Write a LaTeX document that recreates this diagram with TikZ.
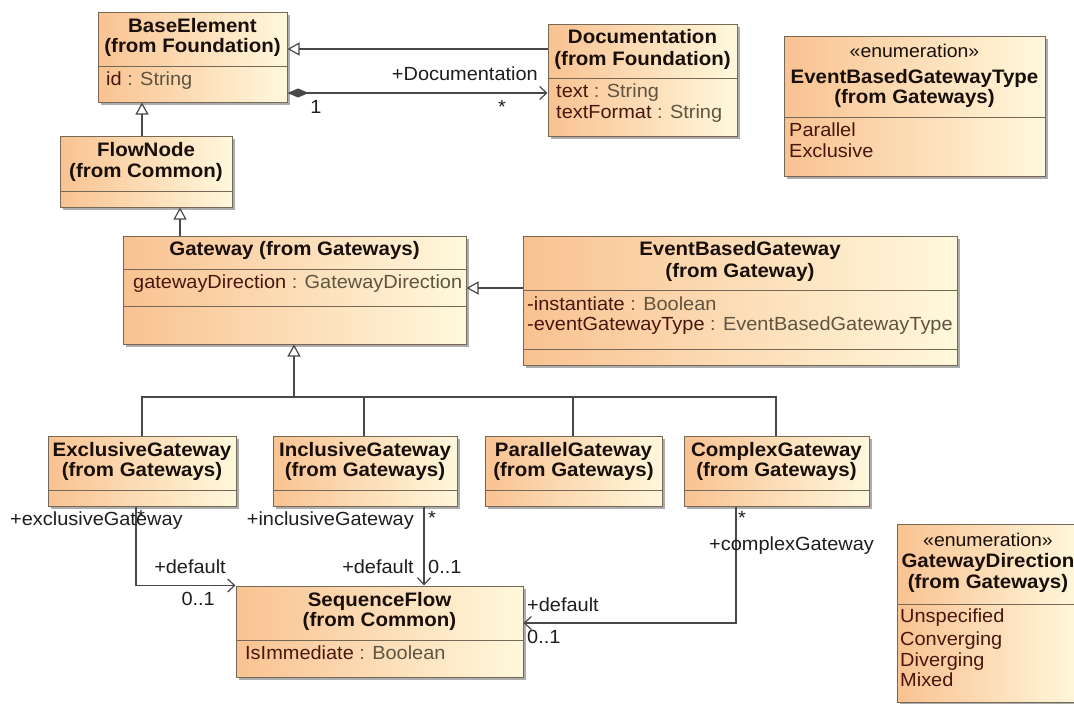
\documentclass[tikz,border=0pt]{standalone}
\usepackage{fontspec}
\setmainfont{Liberation Sans}[FakeStretch=1.05]
\usetikzlibrary{arrows.meta,fit,shadows}

\definecolor{boxL}{RGB}{249,194,145}
\definecolor{boxR}{RGB}{255,248,220}
\definecolor{boxBorder}{RGB}{118,104,86}
\definecolor{linecol}{RGB}{72,72,72}
\definecolor{namecol}{RGB}{72,22,14}
\definecolor{typecol}{RGB}{96,84,64}
\definecolor{titlecol}{RGB}{25,15,10}
\definecolor{labelcol}{RGB}{30,30,30}

\newcommand\attrpair[2]{\textcolor{namecol}{#1} \textcolor{typecol}{: #2}}

\tikzset{
  clsbox/.style={draw=boxBorder, line width=1pt, left color=boxL, right color=boxR,
    inner sep=0pt, general shadow={fill=black!32, shadow xshift=3pt, shadow yshift=-3pt}},
  sepline/.style={draw=boxBorder, line width=0.9pt},
  ttl/.style={font=\fontsize{19.5}{21}\selectfont\bfseries, text=titlecol, inner sep=0pt,
    text height=0.72em, text depth=0pt, anchor=center},
  stereo/.style={font=\fontsize{18.5}{21}\selectfont, text=titlecol, inner sep=0pt,
    text height=0.72em, text depth=0pt, anchor=center},
  attr/.style={font=\fontsize{19}{21}\selectfont, text=namecol, inner sep=0pt,
    text height=0.72em, text depth=0pt, anchor=west},
  lbl/.style={font=\fontsize{19}{21}\selectfont, text=labelcol, inner sep=0pt,
    text height=0.72em, text depth=0pt},
  conn/.style={draw=linecol, line width=1.2pt},
  gen/.style={conn, -{Triangle[open, length=12pt, width=13pt, line width=1.2pt]}},
  assoc/.style={conn, -{Straight Barb[length=7pt, width=13pt, line width=1.2pt]}},
}

\begin{document}
\begin{tikzpicture}[x=1pt, y=-1pt]
\useasboundingbox (0,0) rectangle (1074,704);
\fill[white] (0,0) rectangle (1074,704);
\clip (0,0) rectangle (1074,704);

% ---------- class boxes ----------
\node[clsbox, fit={(98,12) (287,102)}] (base) {};
\draw[sepline] (base.west |- 0,66) -- (base.east |- 0,66);
\node[ttl] (baseT1) at (192.5,29) {BaseElement};
\node[ttl] (baseT2) at (192.5,49) {(from Foundation)};
\node[attr] (baseA1) at (106,82) {\attrpair{id}{String}};

\node[clsbox, fit={(548,24) (737,136)}] (doc) {};
\draw[sepline] (doc.west |- 0,78) -- (doc.east |- 0,78);
\node[ttl] (docT1) at (642.5,40) {Documentation};
\node[ttl] (docT2) at (642.5,62) {(from Foundation)};
\node[attr] (docA1) at (556,94) {\attrpair{text}{String}};
\node[attr] (docA2) at (556,115) {\attrpair{textFormat}{String}};

\node[clsbox, fit={(784,36) (1045,176)}] (ebgt) {};
\draw[sepline] (ebgt.west |- 0,117) -- (ebgt.east |- 0,117);
\node[stereo] (ebgtS) at (914.5,54) {«enumeration»};
\node[ttl] (ebgtT1) at (914.5,80) {EventBasedGatewayType};
\node[ttl] (ebgtT2) at (914.5,100) {(from Gateways)};
\node[attr] (ebgtL1) at (789,133) {Parallel};
\node[attr] (ebgtL2) at (789,154) {Exclusive};

\node[clsbox, fit={(60,136) (232,207)}] (flow) {};
\draw[sepline] (flow.west |- 0,191) -- (flow.east |- 0,191);
\node[ttl] (flowT1) at (146,153) {FlowNode};
\node[ttl] (flowT2) at (146,174) {(from Common)};

\node[clsbox, fit={(123,236) (466,344)}] (gw) {};
\draw[sepline] (gw.west |- 0,269) -- (gw.east |- 0,269);
\draw[sepline] (gw.west |- 0,306) -- (gw.east |- 0,306);
\node[ttl] (gwT1) at (294.5,252) {Gateway (from Gateways)};
\node[attr] (gwA1) at (133,285) {\attrpair{gatewayDirection}{GatewayDirection}};

\node[clsbox, fit={(523,236) (957,365)}] (ebg) {};
\draw[sepline] (ebg.west |- 0,290) -- (ebg.east |- 0,290);
\draw[sepline] (ebg.west |- 0,349) -- (ebg.east |- 0,349);
\node[ttl] (ebgT1) at (740,252) {EventBasedGateway};
\node[ttl] (ebgT2) at (740,274) {(from Gateway)};
\node[attr] (ebgA1) at (527,307) {\attrpair{-instantiate}{Boolean}};
\node[attr] (ebgA2) at (527,327) {\attrpair{-eventGatewayType}{EventBasedGatewayType}};

\node[clsbox, fit={(48,436) (236,506)}] (excl) {};
\draw[sepline] (excl.west |- 0,490) -- (excl.east |- 0,490);
\node[ttl] (exclT1) at (142,453) {ExclusiveGateway};
\node[ttl] (exclT2) at (142,473) {(from Gateways)};

\node[clsbox, fit={(273,436) (457,506)}] (incl) {};
\draw[sepline] (incl.west |- 0,490) -- (incl.east |- 0,490);
\node[ttl] (inclT1) at (365,453) {InclusiveGateway};
\node[ttl] (inclT2) at (365,473) {(from Gateways)};

\node[clsbox, fit={(485,436) (662,506)}] (par) {};
\draw[sepline] (par.west |- 0,490) -- (par.east |- 0,490);
\node[ttl] (parT1) at (573.5,453) {ParallelGateway};
\node[ttl] (parT2) at (573.5,473) {(from Gateways)};

\node[clsbox, fit={(684,436) (869,506)}] (cplx) {};
\draw[sepline] (cplx.west |- 0,490) -- (cplx.east |- 0,490);
\node[ttl] (cplxT1) at (776.5,453) {ComplexGateway};
\node[ttl] (cplxT2) at (776.5,473) {(from Gateways)};

\node[clsbox, fit={(236,586) (523,677)}] (seq) {};
\draw[sepline] (seq.west |- 0,640) -- (seq.east |- 0,640);
\node[ttl] (seqT1) at (379.5,603) {SequenceFlow};
\node[ttl] (seqT2) at (379.5,623) {(from Common)};
\node[attr] (seqA1) at (245,656) {\attrpair{IsImmediate}{Boolean}};

\node[clsbox, fit={(897,524) (1080,702)}] (gdir) {};
\draw[sepline] (gdir.west |- 0,604) -- (gdir.east |- 0,604);
\node[stereo] (gdirS) at (988,543) {«enumeration»};
\node[ttl] (gdirT1) at (988,564) {GatewayDirection};
\node[ttl] (gdirT2) at (988,585) {(from Gateways)};
\node[attr] (gdirL1) at (900,619) {Unspecified};
\node[attr] (gdirL2) at (900,642) {Converging};
\node[attr] (gdirL3) at (900,663) {Diverging};
\node[attr] (gdirL4) at (900,683) {Mixed};

% ---------- generalizations ----------
\draw[gen] (doc.west |- 0,49) -- (base.east |- 0,49);
\draw[gen] (flow.north -| 142,0) -- (base.south -| 142,0);
\draw[gen] (gw.north -| 180,0) -- (flow.south -| 180,0);
\draw[gen] (ebg.west |- 0,288) -- (gw.east |- 0,288);

\coordinate (bus) at (294,397);
\draw[conn] (excl.north -| 142,0) |- (bus);
\draw[conn] (cplx.north -| 776,0) |- (bus);
\draw[conn] (incl.north -| 364,0) -- (364,0 |- bus);
\draw[conn] (par.north -| 573,0) -- (573,0 |- bus);
\draw[gen] (bus) -- (bus |- gw.south);

% ---------- composition Documentation ----------
\draw[conn, {Diamond[length=21pt, width=9pt, fill=linecol, line width=0.6pt]}-{Straight Barb[length=7pt, width=13pt, line width=1.2pt]}]
  (base.east |- 0,93) -- (doc.west |- 0,93);
\node[lbl, anchor=east] (docRole) at (538,77) {+Documentation};
\node[lbl] (docMul) at (502,110) {*};
\node[lbl] (baseMul) at (316,110) {1};

% ---------- default sequence flows ----------
\draw[assoc] (excl.south -| 136,0) |- (seq.north west);
\node[lbl, anchor=west] (exclRole) at (10,522) {+exclusiveGateway};
\node[lbl] (exclMul) at (141,520) {*};
\node[lbl, anchor=east] (exclDef) at (226,570) {+default};
\node[lbl, anchor=east] (exclDefM) at (215,602) {0..1};

\draw[assoc] (incl.south -| 424,0) -- (seq.north -| 424,0);
\node[lbl, anchor=east] (inclRole) at (414,522) {+inclusiveGateway};
\node[lbl] (inclMul) at (432,521) {*};
\node[lbl, anchor=east] (inclDef) at (414,570) {+default};
\node[lbl, anchor=west] (inclDefM) at (428,570) {0..1};

\draw[assoc] (cplx.south -| 736,0) |- (seq.east |- 0,623);
\node[lbl] (cplxMul) at (742,521) {*};
\node[lbl, anchor=west] (cplxRole) at (709,547) {+complexGateway};
\node[lbl, anchor=west] (cplxDef) at (527,608) {+default};
\node[lbl, anchor=west] (cplxDefM) at (527,640) {0..1};
\end{tikzpicture}
\end{document}
